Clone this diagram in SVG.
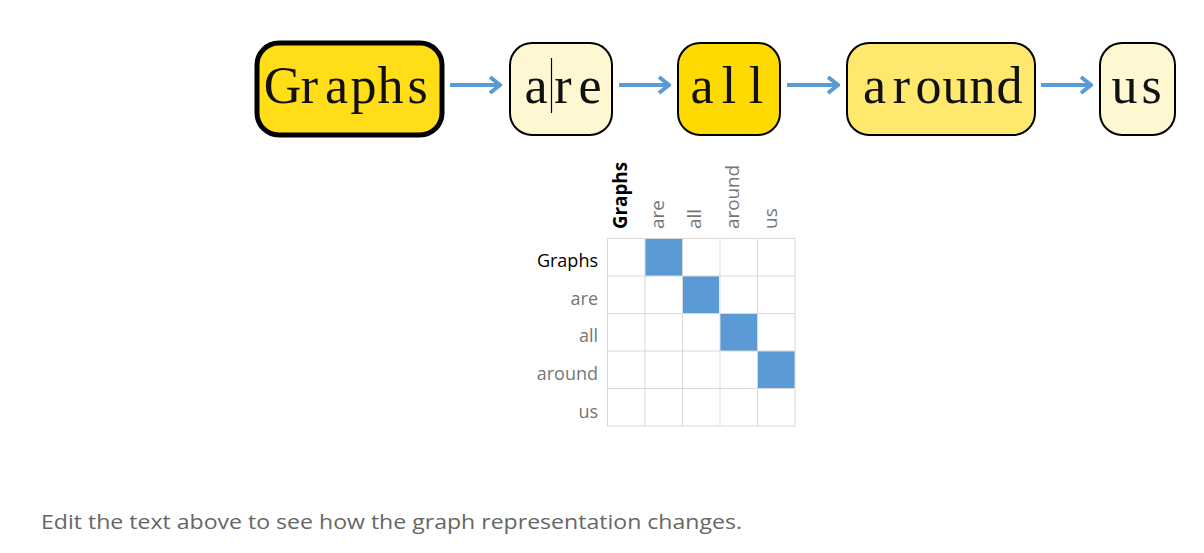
<svg xmlns="http://www.w3.org/2000/svg" width="1204" height="553" viewBox="0 0 1204 553">
<style>
.node rect{stroke:#000;stroke-width:2}
.word{font-family:"Liberation Serif",serif;font-size:52px;fill:#111;text-anchor:middle}
.conn line{stroke:#5B9BD5;stroke-width:4}
.grid line{stroke:#D9D9D9;stroke-width:1}
.cell{fill:#5B9BD5}
.lbl{font-family:"Open Sans",sans-serif;font-size:18px;fill:#767676}
.col{font-family:"Open Sans",sans-serif;font-size:19px;fill:#767676}
.act{fill:#000}
.cap{font-family:"Open Sans",sans-serif;font-size:20px;fill:#666}
</style>
<defs>
<marker id="ah" viewBox="0 0 14 20" refX="12" refY="10" markerWidth="14" markerHeight="20" orient="auto" markerUnits="userSpaceOnUse">
<path d="M2,2 L12,10 L2,18" fill="none" stroke="#5B9BD5" stroke-width="4" stroke-linejoin="miter"/>
</marker>
</defs>
<rect width="1204" height="553" fill="#fff"/>
<g id="node-Graphs" class="node"><rect x="257" y="43" width="185" height="92" rx="22" fill="#FFDD17" style="stroke-width:5"/><text class="word" transform="translate(350,103)" x="-67.5 -40.5 -13.5 13.5 40.5 67.5" y="0">Graphs</text></g>
<g id="node-are" class="node"><rect x="510" y="43" width="102" height="92" rx="22" fill="#FFF7D1"/><text class="word" transform="translate(563,103)" x="-27 0 27" y="0">are</text><line x1="551.5" y1="58" x2="551.5" y2="113" stroke="#000" stroke-width="1.2"/></g>
<g id="node-all" class="node"><rect x="678" y="43" width="102" height="92" rx="22" fill="#FFDA00"/><text class="word" transform="translate(729,103)" x="-27 0 27" y="0">all</text></g>
<g id="node-around" class="node"><rect x="847" y="43" width="188" height="92" rx="22" fill="#FFE86E"/><text class="word" transform="translate(942,103)" x="-67.5 -40.5 -13.5 13.5 40.5 67.5" y="0">around</text></g>
<g id="node-us" class="node"><rect x="1100" y="43" width="75" height="92" rx="22" fill="#FFF7D1"/><text class="word" transform="translate(1138,103)" x="-13.5 13.5" y="0">us</text></g>
<g id="connectors" class="conn">
<line x1="450" y1="85" x2="500" y2="85" marker-end="url(#ah)"/>
<line x1="619" y1="85" x2="669" y2="85" marker-end="url(#ah)"/>
<line x1="787" y1="85" x2="838" y2="85" marker-end="url(#ah)"/>
<line x1="1041" y1="85" x2="1091" y2="85" marker-end="url(#ah)"/>
</g>
<g id="matrix">
<rect class="cell" x="645" y="239" width="37" height="37"/>
<rect class="cell" x="682" y="276" width="37" height="37"/>
<rect class="cell" x="720" y="314" width="37" height="37"/>
<rect class="cell" x="757" y="351" width="38" height="38"/>
<g class="grid">
<line x1="607" y1="238.5" x2="795" y2="238.5"/>
<line x1="607" y1="276" x2="795" y2="276"/>
<line x1="607" y1="313.5" x2="795" y2="313.5"/>
<line x1="607" y1="351" x2="795" y2="351"/>
<line x1="607" y1="388.5" x2="795" y2="388.5"/>
<line x1="607" y1="426" x2="795" y2="426"/>
<line x1="607.5" y1="238" x2="607.5" y2="426"/>
<line x1="645" y1="238" x2="645" y2="426"/>
<line x1="682.5" y1="238" x2="682.5" y2="426"/>
<line x1="720" y1="238" x2="720" y2="426"/>
<line x1="757.5" y1="238" x2="757.5" y2="426"/>
<line x1="795" y1="238" x2="795" y2="426"/>
</g>
<g text-anchor="end">
<text class="lbl act" x="598" y="267">Graphs</text>
<text class="lbl" x="598" y="305">are</text>
<text class="lbl" x="598" y="342">all</text>
<text class="lbl" x="598" y="380">around</text>
<text class="lbl" x="598" y="418">us</text>
</g>
<g>
<text class="col act" font-weight="bold" transform="translate(627,229) rotate(-90)" textLength="67" lengthAdjust="spacingAndGlyphs">Graphs</text>
<text class="col" transform="translate(664,229) rotate(-90)">are</text>
<text class="col" transform="translate(701,229) rotate(-90)">all</text>
<text class="col" transform="translate(739,229) rotate(-90)" textLength="64" lengthAdjust="spacingAndGlyphs">around</text>
<text class="col" transform="translate(777,229) rotate(-90)">us</text>
</g>
</g>
<text class="cap" x="41" y="529" textLength="701" lengthAdjust="spacingAndGlyphs">Edit the text above to see how the graph representation changes.</text>
</svg>
